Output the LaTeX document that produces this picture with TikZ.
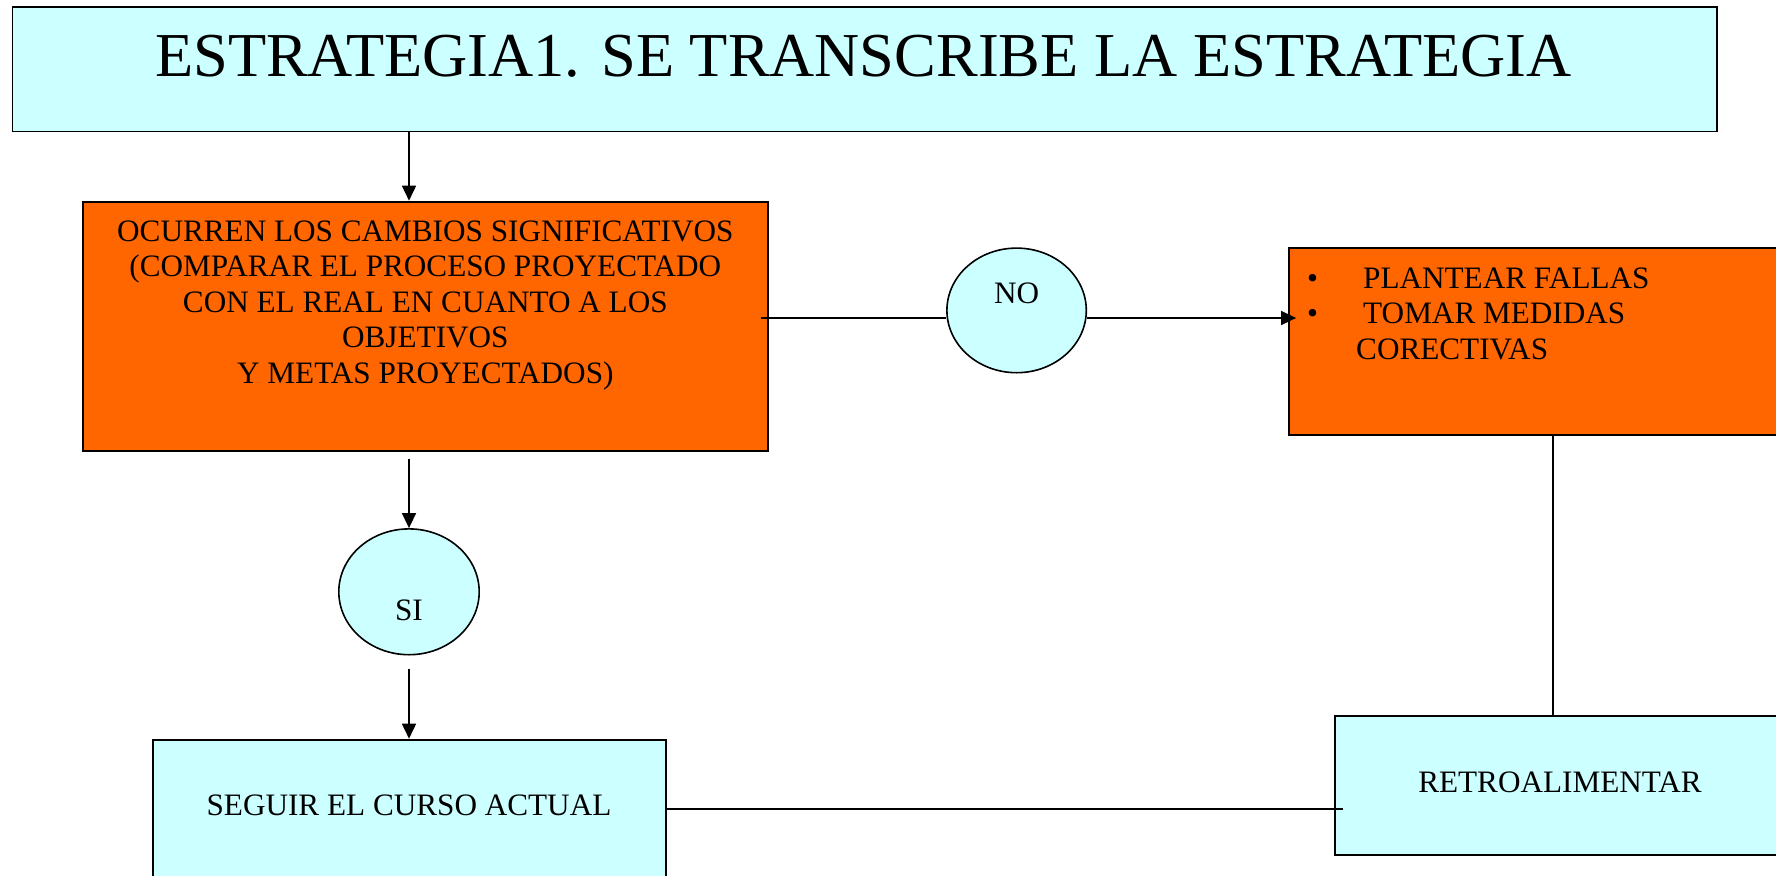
\documentclass[tikz,border=0pt]{standalone}
\usepackage{fontspec}
\setmainfont{Liberation Serif}
\usetikzlibrary{arrows.meta,shapes.geometric}
\definecolor{boxcyan}{HTML}{CCFFFF}
\definecolor{boxorange}{HTML}{FF6600}
\tikzset{
  cyanbox/.style={draw=black, line width=1.8pt, fill=boxcyan, rectangle, inner sep=0pt},
  orangebox/.style={draw=black, line width=1.8pt, fill=boxorange, rectangle, inner sep=0pt},
  oval/.style={draw=black, line width=1.6pt, fill=boxcyan, ellipse, inner sep=0pt},
  txt/.style={inner sep=0pt, font=\fontsize{31.2}{35.6}\selectfont},
  conn/.style={draw=black, line width=1.6pt},
  arr/.style={conn, -{Triangle[length=15pt,width=14pt]}}
}
\begin{document}
\begin{tikzpicture}[x=1pt,y=-1pt]
\useasboundingbox (0,0) rectangle (1776,875);
% boxes
\node[cyanbox, minimum width=1704.5, minimum height=124.6] (title) at (864.75,69.1) {};
\node[orangebox, minimum width=685.3, minimum height=249.2] (o1) at (425.35,326.2) {};
\node[orangebox, minimum width=501, minimum height=187] (o2) at (1539.5,341.5) {};
\node[cyanbox, minimum width=455, minimum height=139] (retro) at (1562.5,785.5) {};
\node[cyanbox, minimum width=513, minimum height=150.4] (seguir) at (409.5,814.8) {};
\node[oval, minimum width=139.4, minimum height=124.6] (no) at (1016.6,310.4) {};
\node[oval, minimum width=140.4, minimum height=125.8] (si) at (409,591.8) {};
% texts
\node[inner sep=0pt, anchor=base, font=\fontsize{62.5}{70}\selectfont] (titletxt) at (863.5,76) {ESTRATEGIA1. SE TRANSCRIBE LA ESTRATEGIA};
\node[txt, anchor=base] (o1txt) at (425.35,241) {\begin{tabular}[t]{@{}c@{}}OCURREN LOS CAMBIOS SIGNIFICATIVOS\\(COMPARAR EL PROCESO PROYECTADO\\CON EL REAL EN CUANTO A LOS\\OBJETIVOS\\Y METAS PROYECTADOS)\end{tabular}};
\node[txt, anchor=base west] (o2txt) at (1307,288) {\begin{tabular}[t]{@{}l@{}}\makebox[56pt][l]{\textbullet}PLANTEAR FALLAS\\\makebox[56pt][l]{\textbullet}TOMAR MEDIDAS\\\hspace*{49pt}CORECTIVAS\end{tabular}};
\node[txt, anchor=base] (notxt) at (1016.6,303) {NO};
\node[txt, anchor=base] (sitxt) at (409,620) {SI};
\node[txt, anchor=base] (seguirtxt) at (409,815) {SEGUIR EL CURSO ACTUAL};
\node[txt, anchor=base] (retrotxt) at (1560,792) {RETROALIMENTAR};
% helper coordinates
\coordinate (yno) at (0,318);
\coordinate (vx) at (1553,0);
\coordinate (ybottom) at (0,808.7);
% connectors
\draw[arr] (title.south -| si.center) -- (o1.north -| si.center);
\draw[arr] ([yshift=-7pt]o1.south -| si.center) -- (si.north);
\draw[arr] ([yshift=-13pt]si.south) -- (seguir.north -| si.center);
\draw[conn] ([xshift=-8pt]o1.east |- yno) -- (no.west |- yno);
\draw[arr] (no.east |- yno) -- ([xshift=8pt]o2.west |- yno);
\draw[conn] (o2.south -| vx) -- (retro.north -| vx);
\draw[conn] (seguir.east |- ybottom) -- ([xshift=9pt]retro.west |- ybottom);
\end{tikzpicture}
\end{document}
